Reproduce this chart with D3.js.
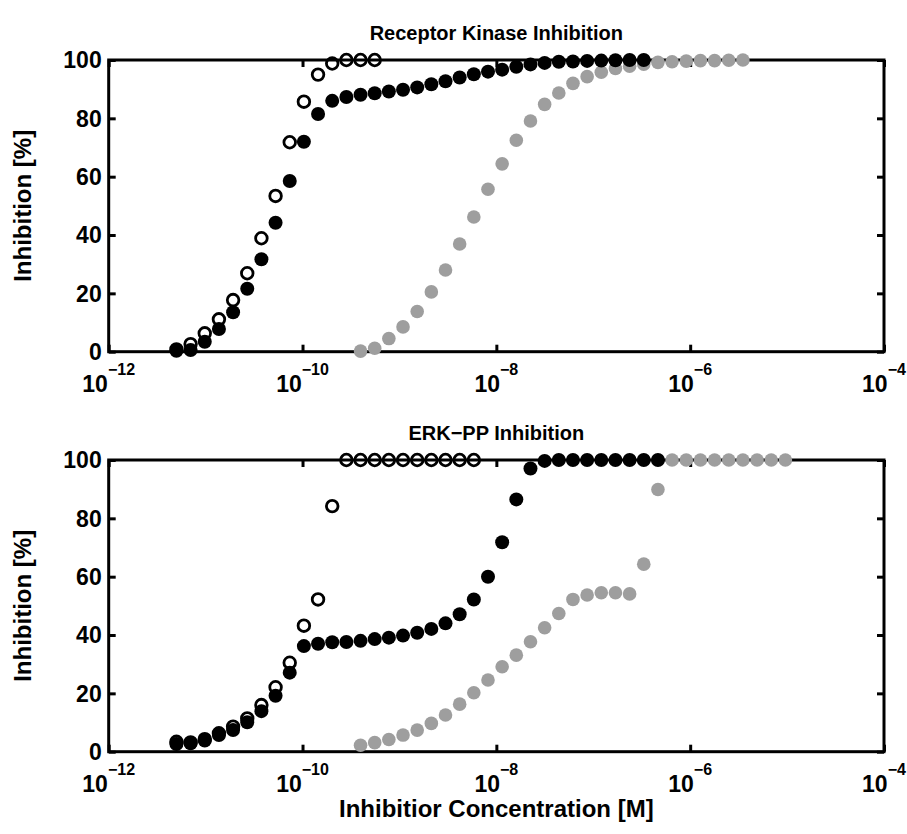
<!DOCTYPE html>
<html><head>
<meta charset="utf-8">
<title>Inhibition</title>
<style>
  body { margin: 0; background: #fff; }
  text { font-family: "Liberation Sans", Arial, Helvetica, sans-serif; font-weight: bold; fill: #000; }
</style>
</head>
<body>
<script src="https://d3js.org/d3.v7.min.js"></script>
<script>
// inhibitor concentration grid [M]
var concentration = [5.00e-12, 7.00e-12, 9.80e-12, 1.372e-11, 1.921e-11, 2.689e-11, 3.765e-11, 5.271e-11,
  7.379e-11, 1.033e-10, 1.446e-10, 2.025e-10, 2.835e-10, 3.969e-10, 5.556e-10, 7.778e-10,
  1.089e-9, 1.525e-9, 2.134e-9, 2.988e-9, 4.183e-9, 5.857e-9, 8.199e-9, 1.148e-8,
  1.607e-8, 2.250e-8, 3.150e-8, 4.410e-8, 6.174e-8, 8.643e-8, 1.210e-7, 1.694e-7,
  2.372e-7, 3.320e-7, 4.649e-7, 6.508e-7, 9.111e-7, 1.276e-6, 1.786e-6, 2.500e-6,
  3.500e-6, 4.900e-6, 6.860e-6, 9.604e-6];

// receptor kinase inhibition [%]
var rkOpen = [0.8, 2.6, 6.3, 11.1, 17.7, 26.9, 38.9, 53.4, 71.8, 85.7, 95.0, 98.8, 100, 100, 100];
var rkOpenStart = 0;
var rkFilled = [0.3, 0.6, 3.4, 7.8, 13.5, 21.6, 31.7, 44.2, 58.5, 72.0, 81.5, 86.0, 87.3, 88.1, 88.6,
  89.2, 89.8, 90.6, 91.7, 92.7, 94.0, 95.1, 96.0, 96.7, 97.7, 98.5, 99.0, 99.4, 99.5, 99.7,
  99.8, 99.9, 100, 100];
var rkFilledStart = 0;
var rkGray = [0.2, 1.2, 4.5, 8.5, 13.8, 20.5, 28.0, 36.9, 46.2, 55.7, 64.4, 72.5, 79.1, 84.8,
  88.7, 92.0, 94.3, 95.8, 97.1, 97.9, 98.6, 99.2, 99.4, 99.6, 99.8, 99.8, 99.9, 100];
var rkGrayStart = 13;

// ERK-PP inhibition [%]
var erkOpen = [3.4, 3.2, 4.3, 6.3, 8.6, 11.4, 16.0, 22.1, 30.5, 43.2, 52.2, 84.2,
  100, 100, 100, 100, 100, 100, 100, 100, 100, 100];
var erkOpenStart = 0;
var erkFilled = [2.6, 2.9, 3.8, 5.7, 7.4, 10.1, 13.9, 19.2, 27.1, 36.2, 37.0, 37.5, 37.6, 38.0,
  38.6, 39.1, 39.8, 40.8, 42.1, 44.0, 47.1, 52.2, 60.0, 71.8, 86.5, 97.1, 99.7,
  100, 100, 100, 100, 100, 100, 100, 100];
var erkFilledStart = 0;
var erkGray = [2.2, 3.1, 4.2, 5.7, 7.4, 9.7, 12.6, 16.3, 20.2, 24.6, 29.1, 33.1, 37.7, 42.5,
  47.4, 52.2, 53.7, 54.5, 54.5, 54.1, 64.3, 89.9, 100, 100, 100, 100, 100, 100, 100, 100, 100];
var erkGrayStart = 13;

var xTicks = [1e-12, 1e-10, 1e-8, 1e-6, 1e-4];
var yTicks = [0, 20, 40, 60, 80, 100];
var titles = ["Receptor Kinase Inhibition", "ERK\u2212PP Inhibition"];
var yLabel = "Inhibition [%]";
var xLabel = "Inhibitior Concentration [M]";

var width = 907, height = 834;
var gray = "#9e9e9e";

var svg = d3.select("body").append("svg")
    .attr("width", width)
    .attr("height", height);

var x = d3.scaleLog().domain([1e-12, 1e-4]).range([108.7, 884]);

function pts(vals, start) {
    return vals.map(function (v, i) { return [concentration[start + i], v]; });
}

var panels = [
    {top: 60, bottom: 351.7, title: titles[0],
     series: [pts(rkGray, rkGrayStart), pts(rkFilled, rkFilledStart), pts(rkOpen, rkOpenStart)]},
    {top: 460, bottom: 751.7, title: titles[1],
     series: [pts(erkGray, erkGrayStart), pts(erkFilled, erkFilledStart), pts(erkOpen, erkOpenStart)]}
];

panels.forEach(function (p, k) {
    var y = d3.scaleLinear().domain([0, 100]).range([p.bottom, p.top]);
    var g = svg.append("g");

    // box
    g.append("rect")
        .attr("x", x.range()[0]).attr("y", p.top)
        .attr("width", x.range()[1] - x.range()[0])
        .attr("height", p.bottom - p.top)
        .attr("fill", "none").attr("stroke", "#000").attr("stroke-width", 3);

    // inward ticks on all four sides
    var xb = g.append("g").attr("transform", "translate(0," + p.bottom + ")")
        .call(d3.axisBottom(x).tickValues(xTicks).tickSize(-7).tickFormat(""));
    var xt = g.append("g").attr("transform", "translate(0," + p.top + ")")
        .call(d3.axisTop(x).tickValues(xTicks).tickSize(-7).tickFormat(""));
    var yl = g.append("g").attr("transform", "translate(" + x.range()[0] + ",0)")
        .call(d3.axisLeft(y).tickValues(yTicks).tickSize(-7).tickFormat(""));
    var yr = g.append("g").attr("transform", "translate(" + x.range()[1] + ",0)")
        .call(d3.axisRight(y).tickValues(yTicks).tickSize(-7).tickFormat(""));
    [xb, xt, yl, yr].forEach(function (a) {
        a.select(".domain").remove();
        a.selectAll("line").attr("stroke", "#000").attr("stroke-width", 3);
    });

    // x tick labels 10^n
    xTicks.forEach(function (t) {
        var e = Math.round(Math.log10(t));
        var lab = g.append("text")
            .attr("x", x(t)).attr("y", p.bottom + 40)
            .attr("text-anchor", "middle")
            .attr("font-size", 23);
        lab.append("tspan").text("10");
        lab.append("tspan").attr("dy", -17).attr("font-size", 16).text("\u2212" + Math.abs(e));
    });

    // y tick labels
    yTicks.forEach(function (t) {
        g.append("text")
            .attr("x", x.range()[0] - 7).attr("y", y(t))
            .attr("dy", "0.36em")
            .attr("text-anchor", "end")
            .attr("font-size", 23)
            .text(t);
    });

    g.append("text")
        .attr("x", (x.range()[0] + x.range()[1]) / 2).attr("y", p.top - 20)
        .attr("text-anchor", "middle").attr("font-size", 20)
        .text(p.title);

    g.append("text")
        .attr("transform", "translate(31," + (p.top + p.bottom) / 2 + ") rotate(-90)")
        .attr("text-anchor", "middle").attr("font-size", 24)
        .text(yLabel);

    // markers: gray, filled black, open black
    g.append("g").selectAll("circle").data(p.series[0]).enter().append("circle")
        .attr("cx", function (d) { return x(d[0]); })
        .attr("cy", function (d) { return y(d[1]); })
        .attr("r", 6.8).attr("fill", gray);
    g.append("g").selectAll("circle").data(p.series[1]).enter().append("circle")
        .attr("cx", function (d) { return x(d[0]); })
        .attr("cy", function (d) { return y(d[1]); })
        .attr("r", 7).attr("fill", "#000");
    g.append("g").selectAll("circle").data(p.series[2]).enter().append("circle")
        .attr("cx", function (d) { return x(d[0]); })
        .attr("cy", function (d) { return y(d[1]); })
        .attr("r", 5.8).attr("fill", "none")
        .attr("stroke", "#000").attr("stroke-width", 2.8);
});

svg.append("text")
    .attr("x", (x.range()[0] + x.range()[1]) / 2).attr("y", 817)
    .attr("text-anchor", "middle").attr("font-size", 24)
    .text(xLabel);
</script>
</body></html>
